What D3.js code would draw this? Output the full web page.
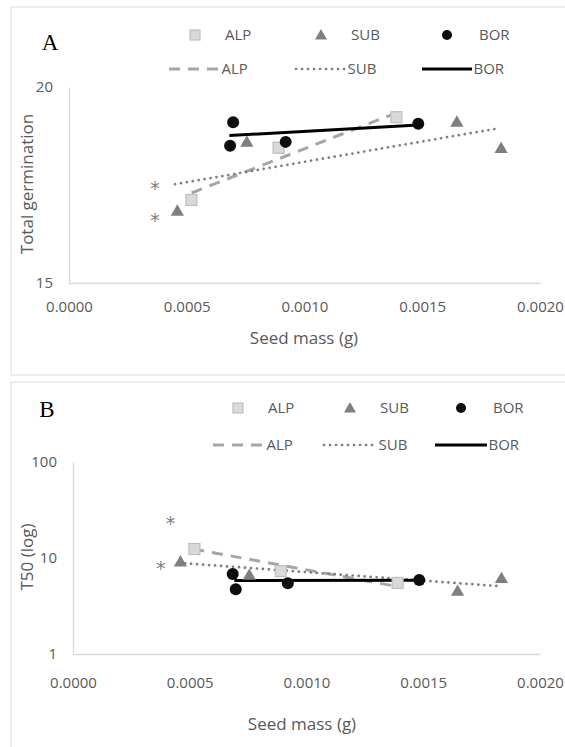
<!DOCTYPE html>
<html><head><meta charset="utf-8">
<script src="https://cdn.jsdelivr.net/npm/d3@7"></script>
<style>
html,body{margin:0;padding:0;background:#fff;}
svg{display:block;font-family:"Open Sans",sans-serif;}
</style></head>
<body>
<svg id="chart" width="565" height="747"></svg>
<script>
// ---------- data ----------
const seriesNames = ["ALP", "SUB", "BOR"];
const xTicks = [0, 0.0005, 0.0010, 0.0015, 0.0020];
const yTicksA = [15, 20];
const yTicksB = [1, 10, 100];

// seed mass (g)
const massALP = [0.00052, 0.00089, 0.00139];
const massSUB = [0.00046, 0.000755, 0.001647, 0.001835];
const massBOR = [0.000684, 0.000697, 0.00092, 0.001483];

// Panel A: total germination
const germALP = [17.12, 18.45, 19.23];
const germSUB = [16.84, 18.60, 19.11, 18.44];
const germBOR = [18.50, 19.10, 18.60, 19.06];

// Panel B: T50
const t50ALP = [12.4, 7.3, 5.5];
const t50SUB = [9.15, 6.65, 4.53, 6.15];
const t50BOR = [6.81, 4.72, 5.45, 5.90];

// trend line end points [mass], [value]
const trendMassA = { ALP: [0.000521, 0.00139], SUB: [0.00045, 0.001827], BOR: [0.000681, 0.001483] };
const trendGerm = { ALP: [17.30, 19.34], SUB: [17.52, 18.95], BOR: [18.76, 19.03] };
const trendMassB = { ALP: [0.000515, 0.00139], SUB: [0.00048, 0.001815], BOR: [0.000691, 0.001483] };
const trendT50 = { ALP: [12.4, 5.04], SUB: [8.81, 5.11], BOR: [5.83, 5.87] };

// significance asterisks
const starMassA = [0.000365, 0.000365];
const starGerm = [17.47, 16.66];
const starMassB = [0.000418, 0.000376];
const starT50 = [24.5, 8.32];

// ---------- styles ----------
const TXT = "#595959";
const AXIS = "#d9d9d9";
const markerStyle = {
  ALP: { fill: "#d9d9d9", stroke: "#bfbfbf" },
  SUB: { fill: "#7f7f7f", stroke: "none" },
  BOR: { fill: "#0d0d0d", stroke: "none" }
};
const lineStyle = {
  ALP: { stroke: "#a6a6a6", width: 3, dash: "11,8", cap: "butt" },
  SUB: { stroke: "#7f7f7f", width: 2.7, dash: "0.1,5.9", cap: "round" },
  BOR: { stroke: "#000000", width: 3, dash: null, cap: "butt" }
};

const svg = d3.select("#chart");

function drawMarker(g, name, x, y, size) {
  const st = markerStyle[name];
  if (name === "ALP") {
    g.append("rect").attr("x", x - size / 2).attr("y", y - size / 2)
      .attr("width", size).attr("height", size)
      .attr("fill", st.fill).attr("stroke", st.stroke).attr("stroke-width", 1.2);
  } else if (name === "SUB") {
    const side = size * 1.2;
    const area = Math.sqrt(3) / 4 * side * side;
    g.append("path").attr("d", d3.symbol(d3.symbolTriangle, area)())
      .attr("transform", `translate(${x},${y + 1})`).attr("fill", st.fill);
  } else {
    g.append("circle").attr("cx", x).attr("cy", y).attr("r", size / 2).attr("fill", st.fill);
  }
}

function styleLine(sel, name) {
  const ls = lineStyle[name];
  sel.attr("stroke", ls.stroke).attr("stroke-width", ls.width).attr("fill", "none")
    .attr("stroke-linecap", ls.cap);
  if (ls.dash) sel.attr("stroke-dasharray", ls.dash);
  return sel;
}

function drawPanel(cfg) {
  const g = svg.append("g");
  // frame
  g.append("rect").attr("x", cfg.frame[0]).attr("y", cfg.frame[1])
    .attr("width", cfg.frame[2]).attr("height", cfg.frame[3])
    .attr("fill", "none").attr("stroke", AXIS).attr("stroke-width", 1);

  // panel letter
  g.append("text").attr("x", cfg.letterPos[0]).attr("y", cfg.letterPos[1])
    .attr("text-anchor", "middle").attr("font-family", "Liberation Serif, serif")
    .attr("font-size", 23).attr("fill", "#000").text(cfg.letter);

  const x = cfg.x, y = cfg.y;
  // x axis
  const xa = g.append("g").attr("transform", `translate(0,${y.range()[0]})`)
    .call(d3.axisBottom(x).tickValues(xTicks).tickFormat(d3.format(".4f"))
      .tickSizeInner(0).tickSizeOuter(0).tickPadding(cfg.xPad));
  // y axis
  const ya = g.append("g").attr("transform", `translate(${x.range()[0]},0)`)
    .call(d3.axisLeft(y).tickValues(cfg.yTicks).tickFormat(d3.format("d"))
      .tickSizeInner(0).tickSizeOuter(0).tickPadding(16));
  [xa, ya].forEach(a => {
    a.select(".domain").attr("stroke", AXIS).attr("stroke-width", 1.3);
    a.selectAll("text").attr("fill", TXT).attr("font-size", 15)
      .attr("font-family", "Open Sans, sans-serif");
  });

  // axis titles
  g.append("text").attr("x", cfg.xTitlePos[0]).attr("y", cfg.xTitlePos[1])
    .attr("text-anchor", "middle").attr("fill", TXT).attr("font-size", 17).text("Seed mass (g)");
  g.append("text").attr("transform", `translate(${cfg.yTitlePos[0]},${cfg.yTitlePos[1]}) rotate(-90)`)
    .attr("text-anchor", "middle").attr("fill", TXT).attr("font-size", 17).text(cfg.yTitle);

  // trend lines
  seriesNames.forEach(n => {
    const tm = cfg.trendMass[n], tv = cfg.trendVal[n];
    styleLine(g.append("line")
      .attr("x1", x(tm[0])).attr("y1", y(tv[0]))
      .attr("x2", x(tm[1])).attr("y2", y(tv[1])), n);
  });

  // points
  seriesNames.forEach(n => {
    const ms = cfg.mass[n], vs = cfg.vals[n];
    ms.forEach((m, i) => drawMarker(g, n, x(m), y(vs[i]), n === "BOR" ? 12 : 11));
  });

  // asterisks
  cfg.starMass.forEach((m, i) => {
    g.append("text").attr("x", x(m)).attr("y", y(cfg.starVal[i]) + 9)
      .attr("text-anchor", "middle").attr("fill", "#7f7f7f").attr("font-size", 19)
      .attr("font-family", "DejaVu Sans, sans-serif").text("*");
  });

  // legend
  const L = cfg.legend;
  seriesNames.forEach((n, i) => {
    drawMarker(g, n, L.markerX[i], L.row1, 10);
    g.append("text").attr("x", L.textX1[i]).attr("y", L.row1).attr("dy", "0.35em")
      .attr("fill", TXT).attr("font-size", 15).text(n);
    styleLine(g.append("line").attr("x1", L.lineX[i][0]).attr("x2", L.lineX[i][1])
      .attr("y1", L.row2).attr("y2", L.row2), n);
    g.append("text").attr("x", L.lineX[i][1] + 1.5).attr("y", L.row2).attr("dy", "0.35em")
      .attr("fill", TXT).attr("font-size", 15).text(n);
  });
}

const xScaleA = d3.scaleLinear().domain([0, 0.002]).range([69, 540]);
const yScaleA = d3.scaleLinear().domain([15, 20]).range([283, 87]);
const xScaleB = d3.scaleLinear().domain([0, 0.002]).range([73, 540]);
const yScaleB = d3.scaleLog().domain([1, 100]).range([654, 462]);

drawPanel({
  frame: [11, 7, 600, 368], letter: "A", letterPos: [50, 50],
  x: xScaleA, y: yScaleA, yTicks: yTicksA, xPad: 18.5,
  xTitlePos: [304, 344], yTitlePos: [33, 184], yTitle: "Total germination",
  mass: { ALP: massALP, SUB: massSUB, BOR: massBOR },
  vals: { ALP: germALP, SUB: germSUB, BOR: germBOR },
  trendMass: trendMassA, trendVal: trendGerm,
  starMass: starMassA, starVal: starGerm,
  legend: { row1: 35, row2: 69, markerX: [195, 321, 447], textX1: [225, 351, 479],
    lineX: [[169, 220], [296, 346], [422, 472]] }
});

drawPanel({
  frame: [11, 382, 600, 400], letter: "B", letterPos: [47, 417],
  x: xScaleB, y: yScaleB, yTicks: yTicksB, xPad: 23,
  xTitlePos: [302, 730], yTitlePos: [33, 557], yTitle: "T50 (log)",
  mass: { ALP: massALP, SUB: massSUB, BOR: massBOR },
  vals: { ALP: t50ALP, SUB: t50SUB, BOR: t50BOR },
  trendMass: trendMassB, trendVal: trendT50,
  starMass: starMassB, starVal: starT50,
  legend: { row1: 408, row2: 445, markerX: [238, 350, 461], textX1: [268, 380, 493],
    lineX: [[213, 265], [324, 377], [435, 487]] }
});
</script>
</body></html>
